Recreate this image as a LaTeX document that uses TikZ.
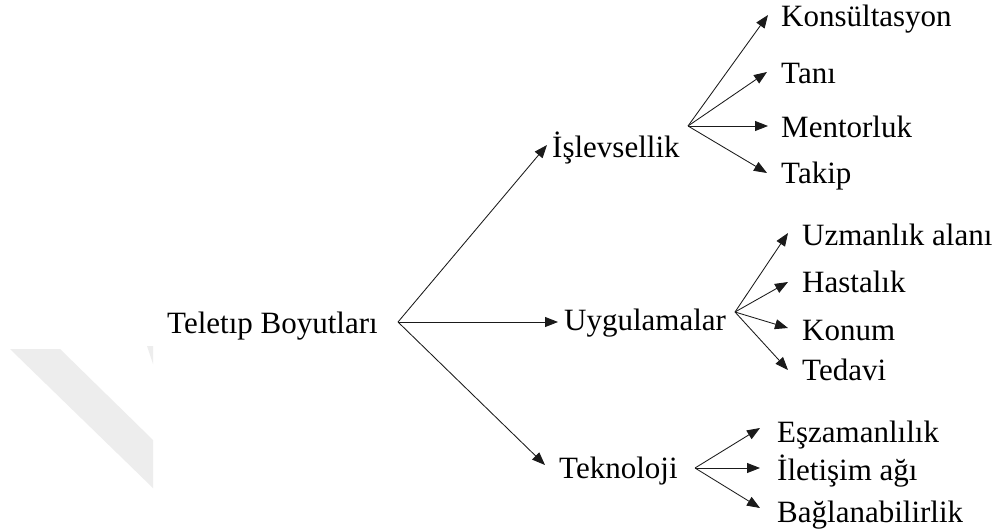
\documentclass[tikz,border=0pt]{standalone}
\usepackage{fontspec}
\setmainfont{Liberation Serif}
\usetikzlibrary{arrows.meta}
\definecolor{wmgrey}{HTML}{EDEDED}
\definecolor{inkline}{HTML}{1A1A1A}
\tikzset{
  lbl/.style={font=\fontsize{31}{36}\selectfont, inner sep=0pt, anchor=base west},
  arr/.style={draw=inkline, line width=0.85pt, -{Triangle[length=13pt,width=10pt]}},
}
\begin{document}
\begin{tikzpicture}[x=1pt,y=-1pt]
\useasboundingbox (0,0) rectangle (1000,530);
\fill[white] (0,0) rectangle (1000,530);

% faint background band
\fill[wmgrey] (10,349) -- (60,349) -- (153,440) -- (153,488) -- cycle;
\fill[wmgrey] (147,346) -- (153,346) -- (153,364) -- cycle;

% labels
\node[lbl] (root) at (167,333) {Teletıp Boyutları};
\node[lbl] (isl)  at (552,157) {İşlevsellik};
\node[lbl] (uyg)  at (564,330) {Uygulamalar};
\node[lbl] (tek)  at (559,478) {Teknoloji};

\node[lbl] (kon) at (781,27)  {Konsültasyon};
\node[lbl] (tan) at (781,83)  {Tanı};
\node[lbl] (men) at (781,137) {Mentorluk};
\node[lbl] (tak) at (781,183) {Takip};

\node[lbl] (uzm) at (802,245) {Uzmanlık alanı};
\node[lbl] (has) at (802,292) {Hastalık};
\node[lbl] (knm) at (802,340) {Konum};
\node[lbl] (ted) at (802,380) {Tedavi};

\node[lbl] (esz) at (777,442) {Eşzamanlılık};
\node[lbl] (ile) at (777,480) {İletişim ağı};
\node[lbl] (bag) at (777,522) {Bağlanabilirlik};

% branching points
\coordinate (rF) at (398,322);
\coordinate (iF) at (688,126);
\coordinate (uF) at (735,312);
\coordinate (tF) at (695,468);

% first level
\draw[arr] (rF) -- ([xshift=-5pt,yshift=12pt]isl.base west);
\draw[arr] (rF) -- ([xshift=-6pt,yshift=8pt]uyg.base west);
\draw[arr] (rF) -- ([xshift=-14pt,yshift=13pt]tek.base west);

% second level
\draw[arr] (iF) -- ([xshift=-13pt,yshift=12pt]kon.base west);
\draw[arr] (iF) -- ([xshift=-14pt,yshift=11pt]tan.base west);
\draw[arr] (iF) -- ([xshift=-13pt,yshift=11pt]men.base west);
\draw[arr] (iF) -- ([xshift=-14pt,yshift=10pt]tak.base west);

\draw[arr] (uF) -- ([xshift=-14pt,yshift=12pt]uzm.base west);
\draw[arr] (uF) -- ([xshift=-14pt,yshift=10pt]has.base west);
\draw[arr] (uF) -- ([xshift=-14pt,yshift=12pt]knm.base west);
\draw[arr] (uF) -- ([xshift=-14pt,yshift=10pt]ted.base west);

\draw[arr] (tF) -- ([xshift=-17pt,yshift=14pt]esz.base west);
\draw[arr] (tF) -- ([xshift=-17pt,yshift=12pt]ile.base west);
\draw[arr] (tF) -- ([xshift=-17pt,yshift=14pt]bag.base west);
\end{tikzpicture}
\end{document}
